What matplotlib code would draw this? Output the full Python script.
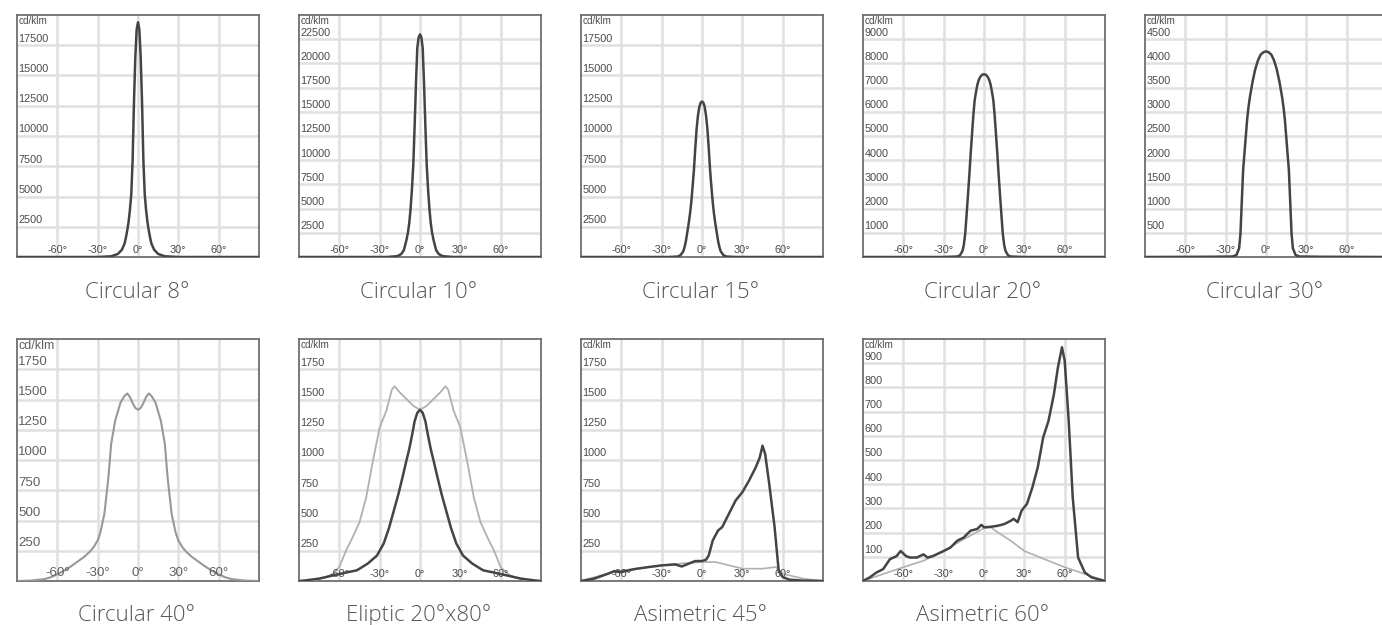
import matplotlib
matplotlib.use('Agg')
import matplotlib.pyplot as plt
import matplotlib.transforms as mtrans

W, H = 1382, 625

# ---------------- data ----------------
titles = ["Circular 8°", "Circular 10°", "Circular 15°", "Circular 20°", "Circular 30°",
          "Circular 40°", "Eliptic 20°x80°", "Asimetric 45°", "Asimetric 60°"]
ymaxes = [20000, 25000, 20000, 10000, 5000, 2000, 2000, 2000, 1000]
ysteps = [2500, 2500, 2500, 1000, 500, 250, 250, 250, 100]
xticks = [-60, -30, 0, 30, 60]

ang_c8 = [-90, -30, -20, -15, -12, -10, -9, -8, -7, -6, -5, -4, -3, -2, -1, 0,
          1, 2, 3, 4, 5, 6, 7, 8, 9, 10, 12, 15, 20, 30, 90]
val_c8 = [0, 0, 60, 250, 600, 1100, 1600, 2200, 2900, 3900, 5200, 8000, 12800, 16500, 18800, 19400,
          18800, 16500, 12800, 8000, 5200, 3900, 2900, 2200, 1600, 1100, 600, 250, 60, 0, 0]

ang_c10 = [-90, -25, -17, -14, -12, -10, -9, -8, -7, -6, -5, -4, -3, -2, -1, 0,
           1, 2, 3, 4, 5, 6, 7, 8, 9, 10, 12, 14, 17, 25, 90]
val_c10 = [0, 0, 80, 300, 700, 1800, 2500, 3500, 5000, 7000, 9500, 13500, 17900, 21600, 22700, 23000,
           22700, 21600, 17900, 13500, 9500, 7000, 5000, 3500, 2500, 1800, 700, 300, 80, 0, 0]

ang_c15 = [-90, -25, -18, -16, -14, -13, -12, -11, -10, -9, -8, -7, -6, -5, -4, -3, -2, -1, 0,
           1, 2, 3, 4, 5, 6, 7, 8, 9, 10, 11, 12, 13, 14, 16, 18, 25, 90]
val_c15 = [0, 0, 40, 150, 450, 800, 1300, 2000, 2700, 3500, 4500, 5800, 7200, 9000, 10600, 11700, 12400, 12750, 12850,
           12750, 12400, 11700, 10600, 9000, 7200, 5800, 4500, 3500, 2700, 2000, 1300, 800, 450, 150, 40, 0, 0]

ang_c20 = [-90, -30, -20, -18, -16, -15, -14, -13, -12, -11, -10, -9, -8, -7, -6, -5, -4, -3, -2, -1, 0,
           1, 2, 3, 4, 5, 6, 7, 8, 9, 10, 11, 12, 13, 14, 15, 16, 18, 20, 30, 90]
val_c20 = [0, 0, 20, 60, 250, 500, 950, 1700, 2500, 3300, 4200, 5000, 5800, 6450, 6800, 7100, 7300, 7420, 7500, 7540, 7550,
           7540, 7500, 7420, 7300, 7100, 6800, 6450, 5800, 5000, 4200, 3300, 2500, 1700, 950, 500, 250, 60, 20, 0, 0]

ang_c30 = [-90, -40, -25, -22, -20, -19, -18, -17, -16, -15, -14, -13, -12, -10, -8, -6, -4, -2, 0,
           2, 4, 6, 8, 10, 12, 13, 14, 15, 16, 17, 18, 19, 20, 22, 25, 40, 90]
val_c30 = [0, 5, 10, 40, 180, 480, 1150, 1800, 2150, 2500, 2850, 3100, 3300, 3620, 3880, 4060, 4180, 4230, 4250,
           4230, 4180, 4060, 3880, 3620, 3300, 3100, 2850, 2500, 2150, 1800, 1150, 480, 180, 40, 10, 5, 0]

ang_c40 = [-90, -80, -70, -65, -60, -55, -50, -45, -40, -36, -33, -30, -28, -25, -22, -20, -17, -13, -10, -8,
           -6, -4, -2, 0, 2, 4, 6, 8, 10, 13, 17, 20, 22, 25, 28, 30, 33, 36, 40, 45, 50, 55, 60, 65, 70, 80, 90]
val_c40 = [0, 3, 15, 30, 55, 85, 120, 160, 200, 240, 280, 335, 400, 555, 857, 1130, 1324, 1475, 1530, 1550,
           1520, 1470, 1430, 1415, 1430, 1470, 1520, 1550, 1530, 1475, 1324, 1130, 857, 555, 400, 335, 280, 240, 200,
           160, 120, 85, 55, 30, 15, 3, 0]

ang_el_wide = [-90, -80, -70, -65, -60, -55, -50, -45, -40, -35, -30, -25, -21, -19, -15, -10, -5, 0,
               5, 10, 15, 19, 21, 25, 30, 35, 40, 45, 50, 55, 60, 65, 70, 80, 90]
val_el_wide = [0, 5, 30, 60, 115, 253, 363, 486, 692, 995, 1270, 1407, 1580, 1610, 1558, 1503, 1448, 1415,
               1448, 1503, 1558, 1610, 1580, 1407, 1270, 995, 692, 486, 363, 253, 115, 60, 30, 5, 0]

ang_el_narrow = [-90, -85, -75, -65, -55, -47, -39, -32, -27, -23, -19, -16, -13, -10, -8, -6, -4, -2, 0,
                 2, 4, 6, 8, 10, 13, 16, 19, 23, 27, 32, 39, 47, 55, 65, 75, 85, 90]
val_el_narrow = [0, 5, 20, 45, 70, 88, 143, 210, 310, 440, 600, 720, 857, 1000, 1090, 1200, 1320, 1390, 1415,
                 1390, 1320, 1200, 1090, 1000, 857, 720, 600, 440, 310, 210, 143, 88, 70, 45, 20, 5, 0]

ang_a45 = [-90, -80, -70, -65, -60, -50, -40, -30, -20, -15, -10, -5, 0, 3, 5, 8, 12, 15, 20, 25, 30,
           35, 40, 43, 45, 47, 50, 54, 57, 60, 65, 75, 90]
val_a45 = [0, 20, 60, 82, 74, 99, 115, 129, 137, 120, 143, 165, 165, 176, 211, 335, 418, 445, 555, 665, 734,
           830, 940, 1022, 1118, 1049, 802, 445, 88, 33, 11, 3, 0]

ang_a45_side = [-90, -75, -60, -45, -30, -15, 0, 10, 20, 30, 45, 55, 60, 75, 90]
val_a45_side = [0, 47, 88, 105, 129, 145, 157, 157, 130, 102, 102, 115, 60, 20, 0]

ang_a60 = [-90, -85, -80, -75, -70, -65, -62, -58, -55, -50, -45, -42, -38, -30, -25, -20, -15, -10, -5, -2,
           0, 5, 10, 15, 20, 22, 25, 28, 32, 36, 40, 44, 48, 52, 55, 58, 60, 63, 66, 70, 75, 80, 90]
val_a60 = [0, 15, 35, 49, 90, 103, 124, 103, 97, 97, 110, 97, 103, 124, 138, 166, 180, 208, 215, 232,
           222, 224, 228, 235, 249, 257, 243, 291, 319, 387, 470, 593, 662, 772, 883, 966, 911, 662, 345, 97,
           35, 15, 0]

ang_a60_side = [-90, -75, -60, -45, -30, -15, 0, 5, 10, 20, 30, 45, 60, 75, 90]
val_a60_side = [0, 29, 57, 84, 124, 173, 218, 222, 202, 166, 124, 90, 57, 29, 0]

DARK = '#444444'
LIGHT = '#b0b0b0'
MID = '#989898'

series = [
    [(ang_c8, val_c8, DARK, 1.8)],
    [(ang_c10, val_c10, DARK, 1.8)],
    [(ang_c15, val_c15, DARK, 1.8)],
    [(ang_c20, val_c20, DARK, 1.8)],
    [(ang_c30, val_c30, DARK, 1.8)],
    [(ang_c40, val_c40, MID, 1.5)],
    [(ang_el_wide, val_el_wide, LIGHT, 1.3), (ang_el_narrow, val_el_narrow, DARK, 1.8)],
    [(ang_a45_side, val_a45_side, LIGHT, 1.2), (ang_a45, val_a45, DARK, 1.8)],
    [(ang_a60_side, val_a60_side, LIGHT, 1.2), (ang_a60, val_a60, DARK, 1.8)],
]

# ---------------- layout (pixels) ----------------
lefts = [17, 299, 581, 863, 1145, 17, 299, 581, 863]
tops = [15] * 5 + [339] * 4
AW, AH = 242, 242
title_base = [298] * 5 + [621] * 4
label_sizes = [7.8] * 5 + [9.6, 7.8, 7.8, 7.8]

fig = plt.figure(figsize=(W / 100, H / 100), dpi=100)
lab_font = ['Liberation Sans', 'DejaVu Sans']

for i in range(9):
    l, t = lefts[i], tops[i]
    ax = fig.add_axes([l / W, (H - t - AH) / H, AW / W, AH / H])
    ax.set_xlim(-90, 90)
    ax.set_ylim(0, ymaxes[i])
    ax.set_xticks(xticks)
    yt = list(range(ysteps[i], ymaxes[i], ysteps[i]))
    ax.set_yticks(yt)
    ax.grid(True, color='#e0e0e0', lw=1.8, zorder=0)
    ax.set_axisbelow(True)
    ax.tick_params(length=0, labelleft=False, labelbottom=False)
    for s in ax.spines.values():
        s.set_color('#6e6e6e')
        s.set_linewidth(1.3)
    fs = label_sizes[i]
    tc = '#4a4a4a' if i != 5 else '#606060'
    for (a, v, c, lw) in series[i]:
        ax.plot(a, v, color=c, lw=lw, solid_joinstyle='round', zorder=3, clip_on=True)
    trans_y = mtrans.offset_copy(mtrans.blended_transform_factory(ax.transAxes, ax.transData),
                                 fig=fig, x=0, y=1.2, units='points')
    for y in yt:
        ax.text(0.006, y, str(y), transform=trans_y, fontsize=fs, color=tc,
                family=lab_font, ha='left', va='bottom', zorder=4)
    trans_x = mtrans.offset_copy(mtrans.blended_transform_factory(ax.transData, ax.transAxes),
                                 fig=fig, x=0, y=1.5, units='points')
    for x in xticks:
        ax.text(x, 0, f"{x}°", transform=trans_x, fontsize=fs, color=tc,
                family=lab_font, ha='center', va='bottom', zorder=4)
    ax.text(0.006, 0.997, 'cd/klm', transform=ax.transAxes, fontsize=fs - 0.6, color=tc,
            family=lab_font, ha='left', va='top', zorder=4)
    fig.text((l + AW / 2 - 1) / W, (H - title_base[i]) / H, titles[i], fontsize=16,
             family=['Open Sans', 'DejaVu Sans'], fontweight='light', color='#555555',
             ha='center', va='baseline')

fig.savefig('out.png', dpi=100, facecolor='white')
